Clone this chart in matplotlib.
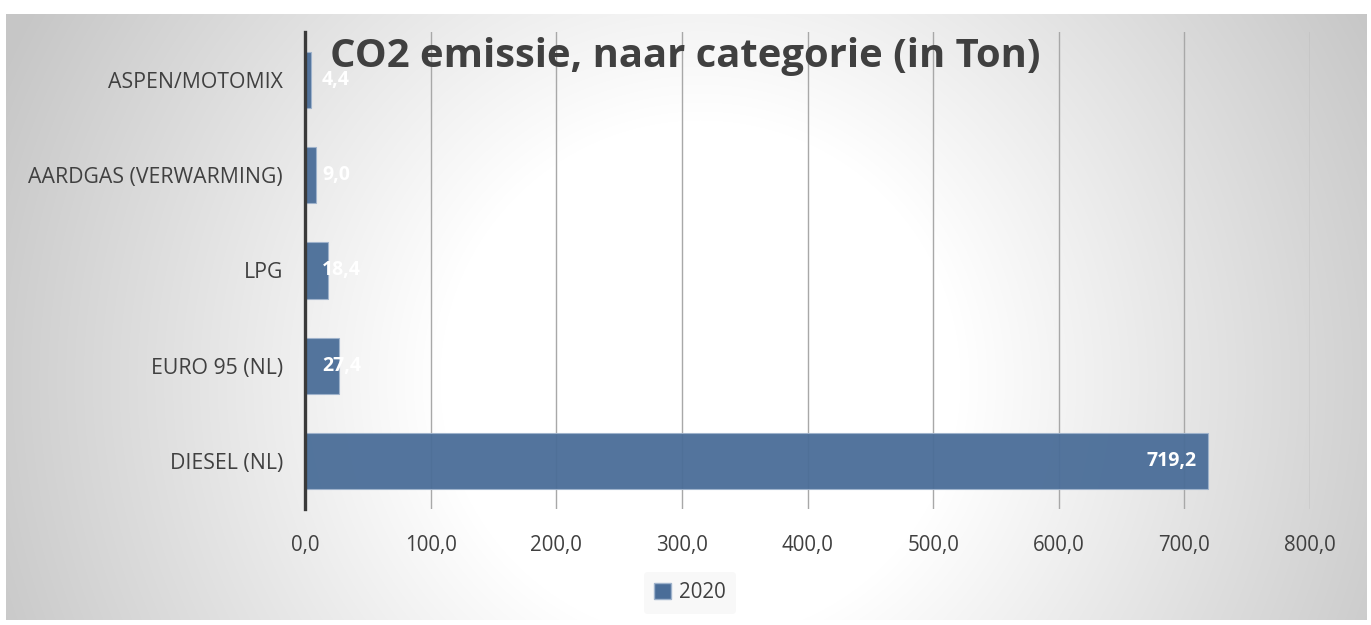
import numpy as np
import matplotlib.pyplot as plt
from matplotlib.patches import Patch

plt.rcParams['font.family'] = ['Open Sans', 'DejaVu Sans']

categories = ["DIESEL (NL)", "EURO 95 (NL)", "LPG", "AARDGAS (VERWARMING)", "ASPEN/MOTOMIX"]
values = [719.2, 27.4, 18.4, 9.0, 4.4]
labels = ["719,2", "27,4", "18,4", "9,0", "4,4"]
xticks = [0, 100, 200, 300, 400, 500, 600, 700, 800]
series = "2020"
title = "CO2 emissie, naar categorie (in Ton)"

W, H = 1371, 625
fig = plt.figure(figsize=(W / 100, H / 100), dpi=100, facecolor="white")

# radial gradient background of the chart area
bx0, by0, bx1, by1 = 6, 14, 1367, 620
bg = fig.add_axes([bx0 / W, (H - by1) / H, (bx1 - bx0) / W, (by1 - by0) / H])
yy, xx = np.mgrid[by0:by1, bx0:bx1]
d = np.hypot(xx - 700, (yy - 380) * 1.0)
t = np.clip((d - 260) / 500, 0, 1)
g = 1 - 0.22 * t
bg.imshow(np.dstack([g, g, g]), aspect="auto", interpolation="bilinear")
bg.set_axis_off()

ax = fig.add_axes([305 / W, (H - 508.6) / H, 1005 / W, 476.2 / H])
ax.patch.set_alpha(0)
y = np.arange(len(categories))
ax.barh(y, values, height=0.59, color="#4a6d98", alpha=0.95,
        edgecolor="#9fb3cc", linewidth=0.8, zorder=2)
ax.set_xlim(0, 800)
ax.set_ylim(-0.5, len(categories) - 0.5)
ax.set_xticks(xticks)
ax.set_xticklabels([f"{v:.1f}".replace(".", ",") for v in xticks])
ax.set_yticks(y)
ax.set_yticklabels(categories)
ax.tick_params(axis="x", length=0, pad=19, labelsize=14.8, labelcolor="#404040")
ax.tick_params(axis="y", length=0, pad=16, labelsize=15.3, labelcolor="#404040")
ax.grid(axis="x", color="#a8a8a8", linewidth=1, zorder=1)
ax.grid(axis="y", visible=False)
for s in ["top", "right", "bottom"]:
    ax.spines[s].set_visible(False)
ax.spines["left"].set_color("#3a3a3a")
ax.spines["left"].set_linewidth(2.4)
ax.spines["left"].set_zorder(3)

for yi, v, lab in zip(y, values, labels):
    if v > 100:
        ax.annotate(lab, (v, yi), xytext=(-12, 0), textcoords="offset pixels",
                    ha="right", va="center", color="white", fontsize=14,
                    fontweight="bold", zorder=4)
    else:
        ax.annotate(lab, (0, yi), xytext=(17, 0), textcoords="offset pixels",
                    ha="left", va="center", color="white", fontsize=14,
                    fontweight="bold", zorder=4)

fig.text(330 / W, 1 - 57 / H, title, ha="left", va="center", fontsize=28.8,
         fontweight="bold", color="#404040")

leg = fig.legend(handles=[Patch(facecolor="#4a6d98", edgecolor="#9fb3cc", label=series)],
                 loc="center", bbox_to_anchor=(690 / W, 1 - 593 / H), frameon=True,
                 fontsize=14.8, handlelength=0.8, handleheight=0.8, handletextpad=0.4,
                 borderpad=0.5)
leg.get_frame().set_facecolor("#f8f8f8")
leg.get_frame().set_edgecolor("none")
leg.get_frame().set_alpha(1)
for txt in leg.get_texts():
    txt.set_color("#404040")

fig.savefig("out.png", dpi=100)
